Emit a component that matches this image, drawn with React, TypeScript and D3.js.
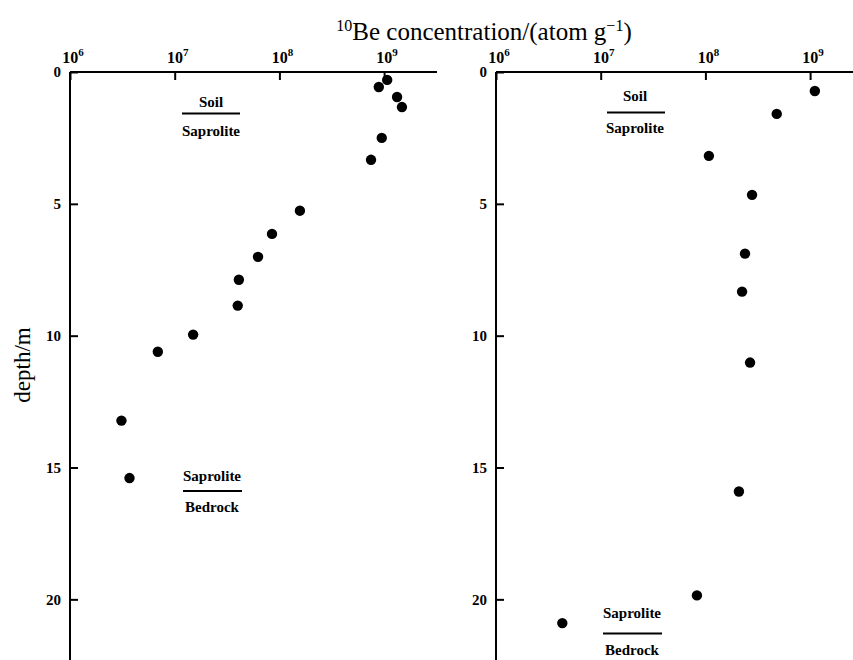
import React, { useRef, useEffect } from 'react';
import * as d3 from 'd3';

// 10Be concentration (atom/g) vs depth (m)
const leftConc = [1.07e9, 8.9e8, 1.33e9, 1.48e9, 9.5e8, 7.5e8, 1.57e8, 8.5e7, 6.25e7, 4.1e7, 4.0e7, 1.5e7, 6.9e6, 3.1e6, 3.7e6];
const leftDepth = [0.3, 0.57, 0.95, 1.33, 2.5, 3.33, 5.26, 6.14, 7.01, 7.88, 8.86, 9.96, 10.61, 13.22, 15.4];

const rightConc = [1.11e9, 4.8e8, 1.08e8, 2.79e8, 2.39e8, 2.24e8, 2.67e8, 2.09e8, 8.3e7, 4.3e6];
const rightDepth = [0.72, 1.59, 3.18, 4.66, 6.89, 8.33, 11.02, 15.91, 19.85, 20.9];

const concTicks = [1e6, 1e7, 1e8, 1e9];
const depthTicks = [0, 5, 10, 15, 20];

const W = 853;
const H = 660;
const FONT = '"Liberation Serif", "DejaVu Serif", serif';

const App = () => {
  const svgRef = useRef<SVGSVGElement>(null);

  useEffect(() => {
    const svg = d3.select(svgRef.current);
    svg.selectAll('*').remove();

    const decade = 104.7;
    const y = d3.scaleLinear().domain([0, 22.3]).range([72, H]);

    const panels = [
      { x0: 70, x1: 437, conc: leftConc, depth: leftDepth,
        top: { cx: 211, y: 107, line: [182, 240], ly: 113.5, y2: 136 },
        bot: { cx: 212, y: 481, line: [183, 242], ly: 491, y2: 512 } },
      { x0: 496, x1: W, conc: rightConc, depth: rightDepth,
        top: { cx: 635, y: 101, line: [607, 665], ly: 112.5, y2: 133 },
        bot: { cx: 632, y: 618, line: [603, 662], ly: 633.5, y2: 655 } },
    ];

    panels.forEach(p => {
      const x = d3.scaleLog()
        .domain([1e6, Math.pow(10, 6 + (p.x1 - p.x0) / decade)])
        .range([p.x0, p.x1]);

      const g = svg.append('g');

      const top = g.append('g')
        .attr('transform', `translate(0,${y(0)})`)
        .call(d3.axisTop(x).tickValues(concTicks).tickSize(-8).tickFormat(() => ''));
      top.select('.domain').attr('stroke-width', 2).attr('d', `M${p.x0},0H${p.x1}`);
      top.selectAll('.tick line').attr('stroke-width', 2);
      top.selectAll('.tick text').remove();

      // power-of-ten labels above the top axis
      const lab = g.append('g');
      concTicks.forEach(d => {
        const t = lab.append('text')
          .attr('x', x(d) + 3).attr('y', y(0) - 9)
          .attr('text-anchor', 'middle')
          .attr('font-family', FONT).attr('font-weight', 'bold').attr('font-size', 16);
        t.append('tspan').text('10');
        t.append('tspan').text(String(Math.round(Math.log10(d))))
          .attr('font-size', 11).attr('dy', -7);
      });

      const left = g.append('g')
        .attr('transform', `translate(${p.x0},0)`)
        .call(d3.axisLeft(y).tickValues(depthTicks).tickSize(-8).tickPadding(9));
      left.attr('font-family', FONT).attr('font-size', 15).attr('font-weight', 'bold');
      left.select('.domain').attr('stroke-width', 2).attr('d', `M0,${y(0)}V${H}`);
      left.selectAll('.tick line').attr('stroke-width', 2);
      left.selectAll('.tick text').attr('fill', '#000');

      g.selectAll('circle.pt')
        .data(p.conc)
        .enter()
        .append('circle')
        .attr('class', 'pt')
        .attr('cx', d => x(d))
        .attr('cy', (d, i) => y(p.depth[i]))
        .attr('r', 5.2)
        .attr('fill', '#000');

      // boundary labels
      const bound = (b: any, a: string, c: string) => {
        g.append('text').attr('x', b.cx).attr('y', b.y).attr('text-anchor', 'middle')
          .attr('font-family', FONT).attr('font-size', 15).attr('font-weight', 'bold').text(a);
        g.append('line').attr('x1', b.line[0]).attr('x2', b.line[1])
          .attr('y1', b.ly).attr('y2', b.ly).attr('stroke', '#000').attr('stroke-width', 2);
        g.append('text').attr('x', b.cx).attr('y', b.y2).attr('text-anchor', 'middle')
          .attr('font-family', FONT).attr('font-size', 15).attr('font-weight', 'bold').text(c);
      };
      bound(p.top, 'Soil', 'Saprolite');
      bound(p.bot, 'Saprolite', 'Bedrock');
    });

    const title = svg.append('text')
      .attr('x', 484).attr('y', 40)
      .attr('text-anchor', 'middle')
      .attr('font-family', FONT).attr('font-size', 25);
    title.append('tspan').text('10').attr('font-size', 16).attr('dy', -9);
    title.append('tspan').text('Be concentration/(atom g').attr('dy', 9);
    title.append('tspan').text('\u22121').attr('font-size', 16).attr('dy', -9);
    title.append('tspan').text(')').attr('dy', 9);

    svg.append('text')
      .attr('transform', 'translate(30,365) rotate(-90)')
      .attr('text-anchor', 'middle')
      .attr('font-family', FONT).attr('font-size', 23)
      .text('depth/m');
  }, []);

  return (
    <div style={{ position: 'absolute', left: 0, top: 0 }}>
      <svg ref={svgRef} width={W} height={H} style={{ display: 'block', background: '#fff' }}></svg>
    </div>
  );
};

export default App;
